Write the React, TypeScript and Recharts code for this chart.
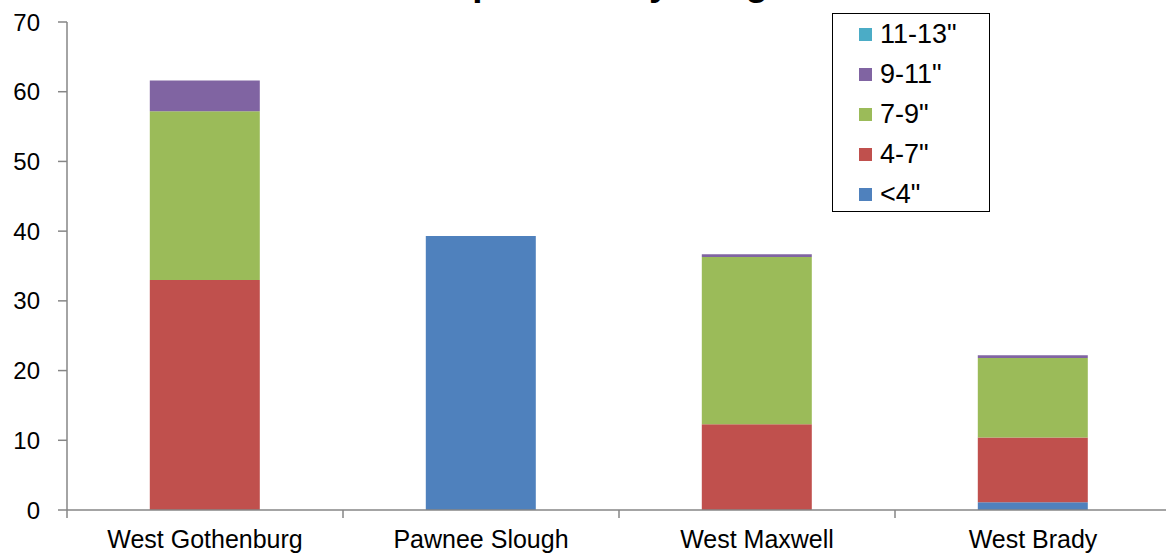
import { BarChart, Bar, XAxis, YAxis } from "recharts";

const sites = ["West Gothenburg", "Pawnee Slough", "West Maxwell", "West Brady"];
const under4 = [0, 39.3, 0, 1.1];
const from4to7 = [33.0, 0, 12.3, 9.3];
const from7to9 = [24.2, 0, 24.0, 11.4];
const from9to11 = [4.4, 0, 0.4, 0.4];
const from11to13 = [0, 0, 0, 0];
const yTicks = [0, 10, 20, 30, 40, 50, 60, 70];

const series = [
  { key: "lt4", name: '<4"', color: "#4F81BD", values: under4 },
  { key: "s4to7", name: '4-7"', color: "#C0504D", values: from4to7 },
  { key: "s7to9", name: '7-9"', color: "#9BBB59", values: from7to9 },
  { key: "s9to11", name: '9-11"', color: "#8064A2", values: from9to11 },
  { key: "s11to13", name: '11-13"', color: "#4BACC6", values: from11to13 },
];

const data = sites.map((site, i) => {
  const row: Record<string, string | number> = { site };
  series.forEach((s) => {
    row[s.key] = s.values[i];
  });
  return row;
});

const font = "'Liberation Sans', Arial, sans-serif";
const axisColor = "#868686";
const TICK_SIZE = 8;
const TICK_MARGIN = 12;

const SiteTick = (props: any) => {
  const { x, y, payload, index } = props;
  const half = payload?.offset ?? 0;
  const axisY = y - TICK_MARGIN - TICK_SIZE;
  return (
    <g>
      <line x1={x - half} x2={x - half} y1={axisY} y2={axisY + TICK_SIZE} stroke={axisColor} strokeWidth={1.5} />
      {index === sites.length - 1 && (
        <line x1={x + half} x2={x + half} y1={axisY} y2={axisY + TICK_SIZE} stroke={axisColor} strokeWidth={1.5} />
      )}
      <text x={x} y={y} dy="0.71em" textAnchor="middle" fill="#000" fontSize={25} fontFamily={font}>
        {payload.value}
      </text>
    </g>
  );
};

const App = () => {
  return (
    <div
      style={{
        position: "absolute",
        left: 0,
        top: 0,
        width: 1166,
        height: 558,
        overflow: "hidden",
        background: "#fff",
        fontFamily: font,
      }}
    >
      <div
        style={{
          position: "absolute",
          left: 390,
          top: -36,
          fontSize: 37,
          lineHeight: "37px",
          fontWeight: "bold",
          whiteSpace: "nowrap",
          color: "#000",
        }}
      >
        Composition by Length
      </div>

      <BarChart
        width={1180}
        height={558}
        data={data}
        margin={{ top: 22, right: 9, bottom: 0, left: 0 }}
        barCategoryGap="30%"
      >
        <XAxis
          dataKey="site"
          height={48}
          tickLine={false}
          tickSize={TICK_SIZE}
          tickMargin={TICK_MARGIN}
          axisLine={{ stroke: axisColor, strokeWidth: 1.5 }}
          tick={<SiteTick />}
          interval={0}
        />
        <YAxis
          width={67}
          domain={[0, 70]}
          ticks={yTicks}
          tickSize={9}
          tickMargin={18}
          axisLine={{ stroke: axisColor, strokeWidth: 1.5 }}
          tickLine={{ stroke: axisColor, strokeWidth: 1.5 }}
          tick={{ fill: "#000", fontSize: 24, fontFamily: font }}
        />
        {series.map((s) => (
          <Bar
            key={s.key}
            dataKey={s.key}
            name={s.name}
            stackId="size"
            fill={s.color}
            isAnimationActive={false}
          />
        ))}
      </BarChart>

      <div
        style={{
          position: "absolute",
          left: 832,
          top: 13,
          width: 156,
          height: 197,
          border: "1.5px solid #000",
          background: "#fff",
        }}
      >
        {[...series].reverse().map((s, i) => (
          <div
            key={s.key}
            style={{
              position: "absolute",
              left: 26,
              top: 4 + i * 40,
              height: 32,
              display: "flex",
              alignItems: "center",
              fontSize: 27,
              color: "#000",
              whiteSpace: "nowrap",
            }}
          >
            <span style={{ display: "inline-block", width: 13, height: 13, background: s.color, marginRight: 8 }} />
            {s.name}
          </div>
        ))}
      </div>
    </div>
  );
};

export default App;
